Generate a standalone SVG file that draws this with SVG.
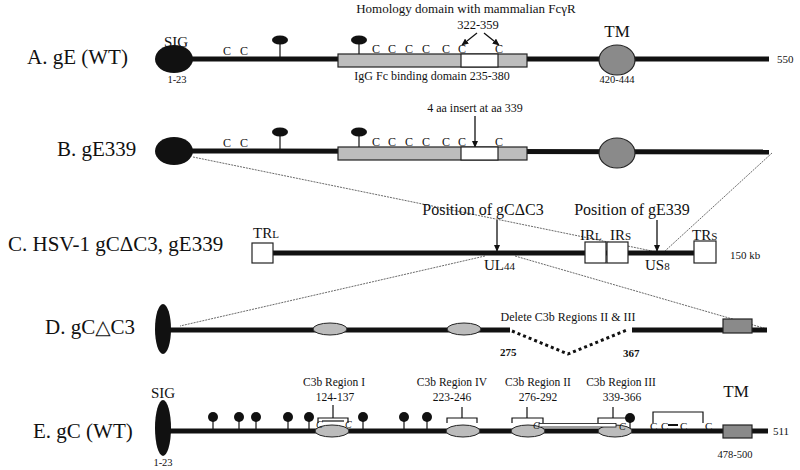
<svg xmlns="http://www.w3.org/2000/svg" width="800" height="470" viewBox="0 0 800 470">
<defs>
<marker id="ah" viewBox="0 0 10 10" refX="9" refY="5" markerWidth="7" markerHeight="7" markerUnits="userSpaceOnUse" orient="auto"><path d="M0,0.5 L10,5 L0,9.5 z" fill="#111"/></marker>
<style>
.t{font-family:"Liberation Serif","Times New Roman",serif;fill:#111}
.lbl{font-size:21px}
.sm{font-size:11px}
.md{font-size:12px}
.rg{font-size:11.5px}
.pos{font-size:16px}
.bb{stroke:#111;stroke-width:5;fill:none}
.stick{stroke:#111;stroke-width:1.2}
.blk{fill:#111}
.gel{fill:#bcbcbc;stroke:#222;stroke-width:1}
.box{fill:#bdbdbd;stroke:#222;stroke-width:1.2}
.wbox{fill:#fff;stroke:#222;stroke-width:1.2}
.tm{fill:#8a8a8a;stroke:#222;stroke-width:1.2}
.thin{stroke:#444;stroke-width:0.8;stroke-dasharray:2 1;fill:none}
.arr{stroke:#111;stroke-width:1.3;fill:none;marker-end:url(#ah)}
.brk{stroke:#111;stroke-width:1.2;fill:none}
.del{stroke:#111;stroke-width:3;stroke-dasharray:3 3;fill:none}
</style>
</defs>
<rect width="800" height="470" fill="#fff"/>

<!-- connectors -->
<g id="connectors">
<line class="thin" x1="193" y1="157" x2="652" y2="251"/>
<line class="thin" x1="772" y1="153" x2="665" y2="251"/>
<line class="thin" x1="485" y1="256" x2="180" y2="326"/>
<line class="thin" x1="515" y1="256" x2="767" y2="329"/>
<line class="arr" x1="477" y1="33" x2="462" y2="45"/>
<line class="arr" x1="484" y1="33" x2="499" y2="45"/>
<line class="arr" x1="475" y1="116" x2="475" y2="147"/>
<line class="arr" x1="497" y1="220" x2="497" y2="251"/>
<line class="arr" x1="657" y1="220" x2="657" y2="251"/>
</g>

<!-- Row A -->
<g id="rowA">
<text class="t lbl" x="27" y="64">A. gE (WT)</text>
<line class="bb" x1="190" y1="59" x2="769" y2="59"/>
<g id="A-sig"><ellipse class="blk" cx="174" cy="59" rx="19" ry="14"/>
<text class="t" x="176" y="47" font-size="15" text-anchor="middle">SIG</text>
<text class="t" x="177" y="83" font-size="10.5" text-anchor="middle">1-23</text></g>
<g id="A-cys" class="t" font-size="12"><text x="223" y="55">C</text><text x="240" y="55">C</text></g>
<g id="A-glyc"><line class="stick" x1="280" y1="43" x2="280" y2="57"/><ellipse class="blk" cx="280" cy="40" rx="8" ry="4.5"/>
<line class="stick" x1="359" y1="43" x2="359" y2="55"/><ellipse class="blk" cx="359" cy="40" rx="8" ry="4.5"/></g>
<g id="A-fc">
<rect class="box" x="338" y="54" width="189" height="13"/>
<rect class="wbox" x="461" y="54" width="37" height="13"/>
<g class="t" font-size="12"><text x="372" y="53">C</text><text x="388" y="53">C</text><text x="405" y="53">C</text><text x="422" y="53">C</text><text x="442" y="53">C</text><text x="458" y="53">C</text><text x="495" y="53">C</text></g>
<text class="t md" x="432" y="80" text-anchor="middle">IgG Fc binding domain 235-380</text>
</g>
<g id="A-hom"><text class="t" x="466" y="13" font-size="13" text-anchor="middle">Homology domain with mammalian FcγR</text>
<text class="t" x="478" y="29" font-size="12.5" text-anchor="middle">322-359</text></g>
<g id="A-tm"><ellipse class="tm" cx="617" cy="60" rx="18" ry="15"/>
<text class="t" x="617" y="37" font-size="17" text-anchor="middle">TM</text>
<text class="t" x="617" y="83" font-size="10.5" text-anchor="middle">420-444</text></g>
<text class="t sm" x="777" y="63">550</text>
</g>

<!-- Row B -->
<g id="rowB">
<text class="t lbl" x="57" y="156">B. gE339</text>
<line class="bb" x1="190" y1="151" x2="769" y2="152"/>
<g id="B-sig"><ellipse class="blk" cx="174" cy="151" rx="19" ry="14"/></g>
<g id="B-cys" class="t" font-size="12"><text x="223" y="147">C</text><text x="240" y="147">C</text></g>
<g id="B-glyc"><line class="stick" x1="280" y1="135" x2="280" y2="149"/><ellipse class="blk" cx="280" cy="132" rx="8" ry="4.5"/>
<line class="stick" x1="359" y1="135" x2="359" y2="147"/><ellipse class="blk" cx="359" cy="132" rx="8" ry="4.5"/></g>
<g id="B-fc">
<rect class="box" x="338" y="147" width="189" height="13"/>
<rect class="wbox" x="461" y="147" width="37" height="13"/>
<g class="t" font-size="12"><text x="372" y="146">C</text><text x="388" y="146">C</text><text x="405" y="146">C</text><text x="422" y="146">C</text><text x="442" y="146">C</text><text x="458" y="146">C</text><text x="495" y="146">C</text></g>
<text class="t md" x="475" y="112" text-anchor="middle">4 aa insert at aa 339</text>
</g>
<g id="B-tm"><ellipse class="tm" cx="617" cy="153" rx="18" ry="15"/></g>
</g>

<!-- Row C -->
<g id="rowC">
<text class="t lbl" x="8" y="251">C. HSV-1 gCΔC3, gE339</text>
<line class="bb" x1="273" y1="253" x2="694" y2="253" stroke-width="6"/>
<g id="C-TRL"><rect class="wbox" x="252" y="243" width="21" height="20"/>
<text class="t" x="253" y="238" font-size="15">TR<tspan font-size="11">L</tspan></text></g>
<g id="C-IRL"><rect class="wbox" x="585" y="242" width="21" height="21"/>
<text class="t" x="580" y="240" font-size="15">IR<tspan font-size="11">L</tspan></text></g>
<g id="C-IRS"><rect class="wbox" x="607" y="242" width="21" height="21"/>
<text class="t" x="610" y="240" font-size="15">IR<tspan font-size="11">S</tspan></text></g>
<g id="C-TRS"><rect class="wbox" x="694" y="241" width="22" height="22"/>
<text class="t" x="692" y="240" font-size="15">TR<tspan font-size="11">S</tspan></text></g>
<text class="t pos" x="483" y="215" text-anchor="middle">Position of gCΔC3</text>
<text class="t pos" x="632" y="215" text-anchor="middle">Position of gE339</text>
<text class="t" x="484" y="270" font-size="15">UL<tspan font-size="11">44</tspan></text>
<text class="t" x="645" y="270" font-size="15">US<tspan font-size="11">8</tspan></text>
<text class="t sm" x="730" y="259">150 kb</text>
</g>

<!-- Row D -->
<g id="rowD">
<text class="t lbl" x="45" y="334">D. gC<tspan font-family="DejaVu Serif, serif" font-size="20">△</tspan>C3</text>
<line class="bb" x1="170" y1="330" x2="510" y2="330"/>
<line class="bb" x1="632" y1="330" x2="767" y2="330"/>
<g id="D-sig"><ellipse class="blk" cx="163" cy="329" rx="8" ry="25"/></g>
<ellipse class="gel" cx="330" cy="329" rx="17" ry="6"/>
<ellipse class="gel" cx="464" cy="329" rx="17" ry="6"/>
<g id="D-tm"><rect class="tm" x="723" y="319" width="29" height="14"/></g>
<g id="D-del"><polyline class="del" points="512,331 568,354 627,330"/>
<text class="t md" x="568" y="321" text-anchor="middle">Delete C3b Regions II &amp; III</text>
<text class="t sm" x="500" y="356" font-weight="bold">275</text>
<text class="t sm" x="623" y="357" font-weight="bold">367</text></g>
</g>

<!-- Row E -->
<g id="rowE">
<text class="t lbl" x="33" y="438">E. gC (WT)</text>
<line class="bb" x1="170" y1="431" x2="768" y2="431"/>
<g id="E-sig"><ellipse class="blk" cx="163" cy="428" rx="8" ry="28"/>
<text class="t" x="163" y="398" font-size="15" text-anchor="middle">SIG</text>
<text class="t" x="163" y="466" font-size="10.5" text-anchor="middle">1-23</text></g>
<g id="E-glyc">
<line class="stick" x1="213" y1="420" x2="213" y2="430"/><circle class="blk" cx="213" cy="417" r="5"/>
<line class="stick" x1="239" y1="420" x2="239" y2="430"/><circle class="blk" cx="239" cy="417" r="5"/>
<line class="stick" x1="256" y1="420" x2="256" y2="430"/><circle class="blk" cx="256" cy="417" r="5"/>
<line class="stick" x1="288" y1="420" x2="288" y2="430"/><circle class="blk" cx="288" cy="417" r="5"/>
<line class="stick" x1="309" y1="420" x2="309" y2="430"/><circle class="blk" cx="309" cy="417" r="5"/>
<line class="stick" x1="363" y1="420" x2="363" y2="430"/><circle class="blk" cx="363" cy="417" r="5"/>
<line class="stick" x1="404" y1="420" x2="404" y2="430"/><circle class="blk" cx="404" cy="417" r="5"/>
<line class="stick" x1="427" y1="420" x2="427" y2="430"/><circle class="blk" cx="427" cy="417" r="5"/>
<line class="stick" x1="630" y1="421" x2="630" y2="430"/><circle class="blk" cx="630" cy="418" r="5"/>
</g>
<g id="E-r1"><ellipse class="gel" cx="332" cy="431" rx="17" ry="6"/>
<path class="brk" d="M318,423 V418 H348 V423 M333,418 V405"/>
<line class="stick" x1="322" y1="421" x2="344" y2="421"/>
<text class="t" x="316" y="428" font-size="10" font-style="italic">C</text><text class="t" x="345" y="428" font-size="10" font-style="italic">C</text>
<text class="t rg" x="334" y="386" text-anchor="middle">C3b Region I</text>
<text class="t rg" x="335" y="401" text-anchor="middle">124-137</text></g>
<g id="E-r4"><ellipse class="gel" cx="463" cy="431" rx="17" ry="6"/>
<path class="brk" d="M447,423 V418 H477 V423 M462,418 V407"/>
<text class="t rg" x="452" y="386" text-anchor="middle">C3b Region IV</text>
<text class="t rg" x="452" y="401" text-anchor="middle">223-246</text></g>
<g id="E-r2"><ellipse class="gel" cx="528" cy="431" rx="17" ry="6"/>
<path class="brk" d="M512,423 V418 H543 V423 M527,418 V407"/>
<text class="t rg" x="538" y="386" text-anchor="middle">C3b Region II</text>
<text class="t rg" x="538" y="401" text-anchor="middle">276-292</text></g>
<g id="E-r3"><ellipse class="gel" cx="615" cy="431" rx="17" ry="6"/>
<path class="brk" d="M598,423 V418 H630 V423 M613,418 V407"/>
<text class="t rg" x="621" y="386" text-anchor="middle">C3b Region III</text>
<text class="t rg" x="622" y="401" text-anchor="middle">339-366</text></g>
<g id="E-ss">
<rect x="539" y="423.5" width="77" height="3.5" fill="#fff" stroke="#111" stroke-width="0.8"/>
<text class="t" x="533" y="429" font-size="10" font-style="italic">C</text>
<text class="t" x="619" y="430" font-size="10" font-style="italic">C</text>
</g>
<g id="E-cys"><path class="brk" d="M653,423 V412 H703 V423"/>
<g class="t" font-size="11"><text x="650" y="430">C</text><text x="661" y="430">C</text><text x="680" y="430">C</text><text x="705" y="430">C</text></g>
<line x1="668" y1="425" x2="678" y2="425" stroke="#111" stroke-width="2"/></g>
<g id="E-tm"><rect class="tm" x="723" y="425" width="29" height="13"/>
<text class="t" x="736" y="397" font-size="17" text-anchor="middle">TM</text>
<text class="t" x="735" y="458" font-size="10.5" text-anchor="middle">478-500</text></g>
<text class="t sm" x="773" y="435">511</text>
</g>
</svg>
